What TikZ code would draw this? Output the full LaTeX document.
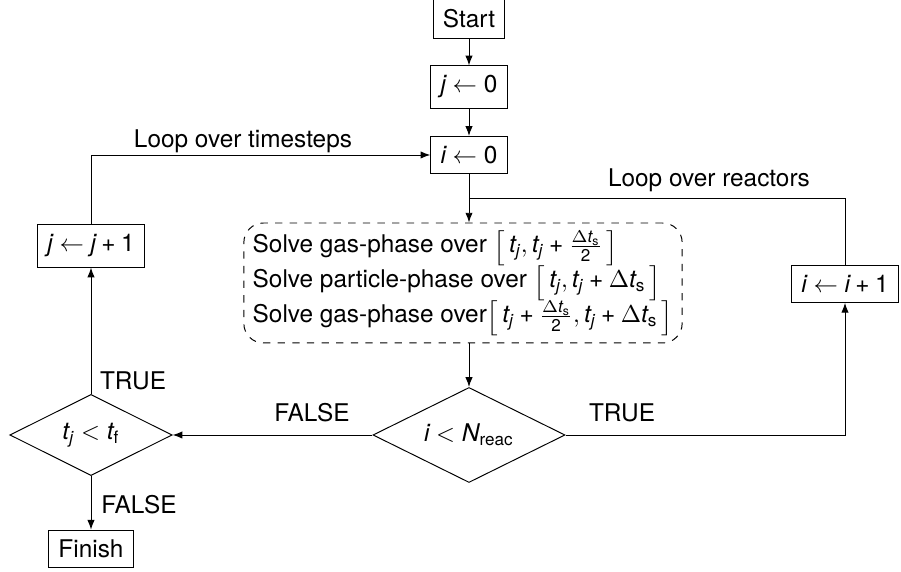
\documentclass[tikz,border=0pt]{standalone}
\usepackage{amsmath}
\usepackage{graphicx}
\usepackage{fontspec}
\setmainfont{TeX Gyre Heros}
\usetikzlibrary{shapes.geometric,arrows.meta}

% sans italic variables, sans digits
\newcommand{\vi}{\mathit{i}}
\newcommand{\vj}{\mathit{j}}
\newcommand{\tj}{\mathit{t}_{\mathit{j}}}
\newcommand{\dts}{\Delta\mathit{t}_{\mathrm{s}}}
\newcommand{\splus}{\mathbin{\text{+}}}
\newcommand{\half}{\frac{\dts}{\mathrm{2}}}
% interval brackets
\newcommand{\lbr}{\mathopen{\scalebox{1}[0.8]{$\Big[$}}\,}
\newcommand{\rbr}{\,\mathclose{\scalebox{1}[0.8]{$\Big]$}}}

\tikzset{
  block/.style={draw,rectangle,inner sep=4pt},
  decision/.style={draw,diamond,aspect=2,inner sep=0pt},
  flow/.style={-{Latex[length=4pt,width=3pt]}},
}

\begin{document}
\begin{tikzpicture}[x=0.01442cm,y=-0.01442cm]
\useasboundingbox (0,0) rectangle (901,572);

% boxes
\node[block] (start) at (469,19) {Start};
\node[block] (jzero) at (469,87) {$\vj \leftarrow \mathrm{0}$};
\node[block] (izero) at (469,155) {$\vi \leftarrow \mathrm{0}$};
\node[block] (jinc) at (91,246) {$\vj \leftarrow \vj \splus \mathrm{1}$};
\node[block] (iinc) at (845,284) {$\vi \leftarrow \vi \splus \mathrm{1}$};
\node[block] (finish) at (91,549) {Finish};

\node[draw,dashed,rounded corners=8pt,align=left,inner sep=3pt,
      minimum width=6.32cm,minimum height=1.73cm] (solve) at (463,283)
  {Solve gas-phase over $\lbr\tj, \tj \splus \half\rbr$\\[-1pt]
   Solve particle-phase over $\lbr\tj, \tj \splus \dts\rbr$\\[-1pt]
   Solve gas-phase over$\lbr\tj \splus \half, \tj \splus \dts\rbr$};

% decisions
\node[decision,minimum width=2.77cm,minimum height=1.37cm] (ineq) at (469,435)
  {$\vi < \mathit{N}_{\mathrm{reac}}$};
\node[decision,minimum width=2.34cm,minimum height=1.17cm] (tcheck) at (91,435)
  {$\tj < \mathit{t}_{\mathrm{f}}$};

% labels
\node (ltime) at (243,141) {Loop over timesteps};
\node (lreac) at (709,180) {Loop over reactors};
\node (ltrueA) at (133,381) {TRUE};
\node (lfalseA) at (312,413) {FALSE};
\node (ltrueB) at (622,413) {TRUE};
\node (lfalseB) at (139,505) {FALSE};

\coordinate (join) at (469,198);

% connectors
\draw[flow] (start) -- (jzero);
\draw[flow] (jzero) -- (izero);
\draw[flow] (izero) -- (izero.south |- solve.north);
\draw (iinc.north) |- (join);
\draw[flow] (ineq.north |- solve.south) -- (ineq.north);
\draw[flow] (ineq.east) -| (iinc.south);
\draw[flow] (ineq.west) -- (tcheck.east);
\draw[flow] (tcheck.north) -- (jinc.south);
\draw[flow] (jinc.north) |- (izero.west);
\draw[flow] (tcheck.south) -- (finish.north);

\end{tikzpicture}
\end{document}
